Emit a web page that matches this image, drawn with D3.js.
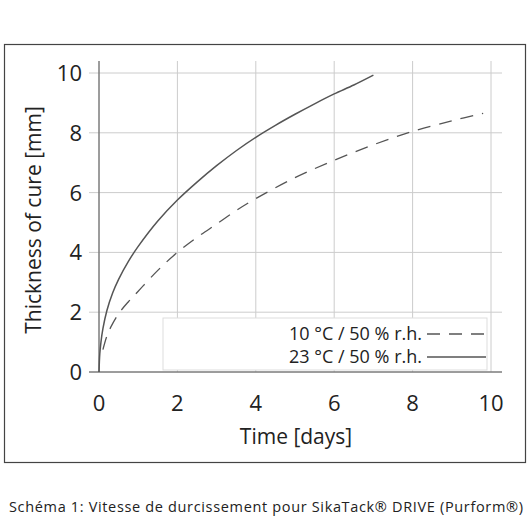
<!DOCTYPE html><html><head><meta charset="utf-8"><script src="https://cdn.jsdelivr.net/npm/d3@7"></script>
<style>body{margin:0;background:#fff}text{font-family:"Open Sans",sans-serif}</style></head><body><svg id="c" width="530" height="530"></svg>
<script>
const xTicks=[0,2,4,6,8,10];
const yTicks=[0,2,4,6,8,10];
const solidX=[0,0.02,0.05,0.1,0.2,0.35,0.5,0.75,1,1.5,2,2.5,3,3.5,4,4.5,5,5.5,6,6.5,7];
const solidY=[0,0.6,1.0,1.45,2.05,2.65,3.1,3.7,4.2,5.05,5.75,6.35,6.9,7.4,7.85,8.25,8.62,8.97,9.3,9.6,9.93];
const dashX=[0.1,0.2,0.3,0.5,0.75,1,1.5,2,2.5,3,3.5,4,5,6,7,8,9,9.8];
const dashY=[0.75,1.2,1.5,1.95,2.35,2.7,3.4,4.0,4.5,4.95,5.4,5.8,6.5,7.08,7.6,8.05,8.4,8.65];
const legendLabels=["10 °C / 50 % r.h.","23 °C / 50 % r.h."];
const caption="Schéma 1: Vitesse de durcissement pour SikaTack® DRIVE (Purform®)";
const svg=d3.select("#c");
svg.append("rect").attr("x",4.5).attr("y",44.5).attr("width",521).attr("height",418).attr("fill","none").attr("stroke","#444").attr("stroke-width",1.2);
const x=d3.scaleLinear().domain([0,10]).range([99,491]);
const y=d3.scaleLinear().domain([0,10]).range([372,73]);
const g=svg.append("g");
xTicks.forEach(t=>g.append("line").attr("x1",x(t)).attr("x2",x(t)).attr("y1",61).attr("y2",y(0)).attr("stroke","#ccc"));
yTicks.forEach(t=>g.append("line").attr("x1",89).attr("x2",502).attr("y1",y(t)).attr("y2",y(t)).attr("stroke","#ccc"));
g.append("line").attr("x1",x(0)).attr("x2",x(0)).attr("y1",61).attr("y2",y(0)).attr("stroke","#555");
g.append("line").attr("x1",89).attr("x2",502).attr("y1",y(0)).attr("y2",y(0)).attr("stroke","#555");
xTicks.forEach(t=>g.append("text").attr("x",x(t)).attr("y",411).attr("text-anchor","middle").attr("font-size",22).attr("fill","#222").text(t));
yTicks.forEach(t=>g.append("text").attr("x",82).attr("y",y(t)+8).attr("text-anchor","end").attr("font-size",22).attr("fill","#222").text(t));
svg.append("text").attr("x",296).attr("y",444).attr("text-anchor","middle").attr("font-size",21).attr("fill","#222").text("Time [days]");
svg.append("text").attr("transform","translate(41,220) rotate(-90)").attr("text-anchor","middle").attr("font-size",21).attr("fill","#222").text("Thickness of cure [mm]");
const line=d3.line().x(d=>x(d[0])).y(d=>y(d[1])).curve(d3.curveCatmullRom);
svg.append("path").attr("d",line(solidX.map((v,i)=>[v,solidY[i]]))).attr("fill","none").attr("stroke","#555").attr("stroke-width",1.5);
svg.append("path").attr("d",line(dashX.map((v,i)=>[v,dashY[i]]))).attr("fill","none").attr("stroke","#555").attr("stroke-width",1.3).attr("stroke-dasharray","13,9");
svg.append("rect").attr("x",163).attr("y",318).attr("width",324).attr("height",52).attr("fill","#fff").attr("stroke","#ddd");
legendLabels.forEach((l,i)=>{
 const yy=[340,363][i];
 svg.append("text").attr("x",422).attr("y",yy).attr("text-anchor","end").attr("font-size",18).attr("fill","#222").text(l);
 svg.append("line").attr("x1",427).attr("x2",486).attr("y1",yy-6).attr("y2",yy-6).attr("stroke","#555").attr("stroke-width",1.3).attr("stroke-dasharray",i==0?"13,9":null);
});
svg.append("text").attr("x",266).attr("y",512).attr("text-anchor","middle").attr("font-size",14.5).attr("fill","#222").attr("textLength",514).text(caption);
</script></body></html>
